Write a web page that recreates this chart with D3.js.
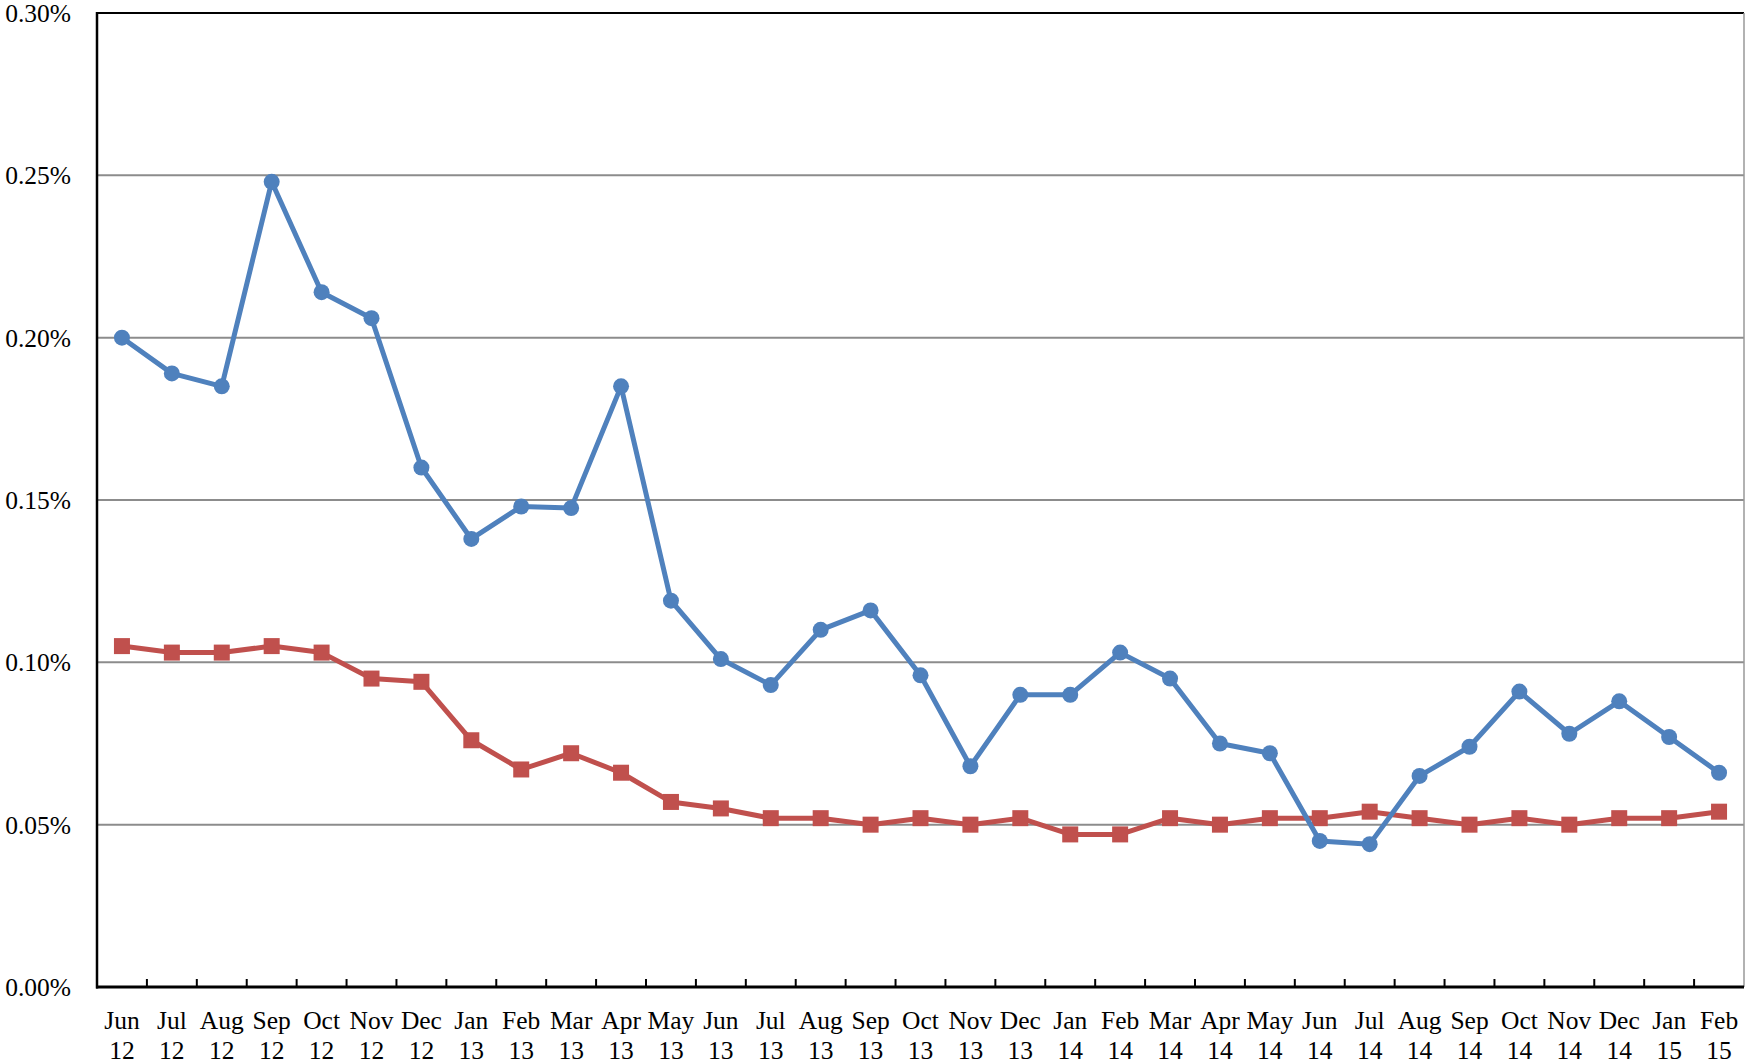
<!DOCTYPE html>
<html lang="en">
<head>
    <meta charset="UTF-8">
    <title>Line chart</title>
    <script src="https://cdn.jsdelivr.net/npm/d3@7"></script>
    <style>
        body { margin: 0; background: #fff; }
        text { font-family: "Liberation Serif", "Times New Roman", serif; fill: #000; }
    </style>
</head>
<body>
    <div id="app"></div>
    <script>
        var width = 1746;
        var height = 1064;
        var margin = { left: 97, top: 13, right: 2, bottom: 77 };
        var g_width = width - margin.left - margin.right;
        var g_height = height - margin.top - margin.bottom;

        // month labels (two lines: month / year)
        var months = ["Jun", "Jul", "Aug", "Sep", "Oct", "Nov", "Dec",
            "Jan", "Feb", "Mar", "Apr", "May", "Jun", "Jul", "Aug", "Sep", "Oct", "Nov", "Dec",
            "Jan", "Feb", "Mar", "Apr", "May", "Jun", "Jul", "Aug", "Sep", "Oct", "Nov", "Dec",
            "Jan", "Feb"];
        var years = ["12", "12", "12", "12", "12", "12", "12",
            "13", "13", "13", "13", "13", "13", "13", "13", "13", "13", "13", "13",
            "14", "14", "14", "14", "14", "14", "14", "14", "14", "14", "14", "14",
            "15", "15"];
        var categories = months.map(function (m, i) { return m + " " + years[i]; });

        // values in percent
        var blueValues = [0.200, 0.189, 0.185, 0.248, 0.214, 0.206, 0.160,
            0.138, 0.148, 0.1475, 0.185, 0.119, 0.101, 0.093, 0.110, 0.116, 0.096, 0.068, 0.090,
            0.090, 0.103, 0.095, 0.075, 0.072, 0.045, 0.044, 0.065, 0.074, 0.091, 0.078, 0.088,
            0.077, 0.066];
        var redValues = [0.105, 0.103, 0.103, 0.105, 0.103, 0.095, 0.094,
            0.076, 0.067, 0.072, 0.066, 0.057, 0.055, 0.052, 0.052, 0.050, 0.052, 0.050, 0.052,
            0.047, 0.047, 0.052, 0.050, 0.052, 0.052, 0.054, 0.052, 0.050, 0.052, 0.050, 0.052,
            0.052, 0.054];
        var yTicks = [0, 0.05, 0.10, 0.15, 0.20, 0.25, 0.30];

        var svg = d3.select("#app")
            .append("svg")
            .attr("width", width)
            .attr("height", height);

        var g = svg.append("g")
            .attr("transform", "translate(" + margin.left + "," + margin.top + ")");

        var x = d3.scaleBand()
            .domain(categories)
            .range([0, g_width]);

        var y = d3.scaleLinear()
            .domain([0, 0.30])
            .range([g_height, 0]);

        // gridlines
        g.selectAll(".grid")
            .data(yTicks.slice(1))
            .enter()
            .append("line")
            .attr("x1", 0)
            .attr("x2", g_width)
            .attr("y1", function (d) { return y(d); })
            .attr("y2", function (d) { return y(d); })
            .attr("stroke", "#8c8c8c")
            .attr("stroke-width", 2);

        // top border (black) and right border (gray)
        g.append("line")
            .attr("x1", 0).attr("x2", g_width)
            .attr("y1", y(0.30)).attr("y2", y(0.30))
            .attr("stroke", "#000").attr("stroke-width", 2);
        g.append("line")
            .attr("x1", g_width).attr("x2", g_width)
            .attr("y1", y(0.30)).attr("y2", g_height)
            .attr("stroke", "#999").attr("stroke-width", 1.5);

        // y axis labels
        g.selectAll(".ylab")
            .data(yTicks)
            .enter()
            .append("text")
            .attr("x", -26)
            .attr("y", function (d) { return y(d); })
            .attr("dy", "0.35em")
            .attr("text-anchor", "end")
            .style("font-size", "25.5px")
            .text(function (d) { return d.toFixed(2) + "%"; });

        // y axis line
        g.append("line")
            .attr("x1", 0).attr("x2", 0)
            .attr("y1", y(0.30) - 1).attr("y2", g_height + 1.5)
            .attr("stroke", "#000").attr("stroke-width", 2.5);

        // x axis: ticks at band boundaries, pointing inward
        g.selectAll(".xtick")
            .data(categories.slice(1))
            .enter()
            .append("line")
            .attr("x1", function (d) { return x(d); })
            .attr("x2", function (d) { return x(d); })
            .attr("y1", g_height)
            .attr("y2", g_height - 8)
            .attr("stroke", "#000")
            .attr("stroke-width", 2);

        g.append("line")
            .attr("x1", -1).attr("x2", g_width)
            .attr("y1", g_height).attr("y2", g_height)
            .attr("stroke", "#000").attr("stroke-width", 3);

        var xlab = g.selectAll(".xlab")
            .data(categories)
            .enter()
            .append("text")
            .attr("text-anchor", "middle")
            .style("font-size", "25.5px")
            .attr("transform", function (d) {
                return "translate(" + (x(d) + x.bandwidth() / 2) + "," + (g_height + 42) + ")";
            });
        xlab.append("tspan")
            .attr("x", 0).attr("y", 0)
            .text(function (d, i) { return months[i]; });
        xlab.append("tspan")
            .attr("x", 0).attr("y", 30)
            .text(function (d, i) { return years[i]; });

        var cx = function (d, i) { return x(categories[i]) + x.bandwidth() / 2; };

        var line = d3.line()
            .x(cx)
            .y(function (d) { return y(d); });

        // red series (squares)
        g.append("path")
            .datum(redValues)
            .attr("d", line)
            .attr("fill", "none")
            .attr("stroke", "#C0504D")
            .attr("stroke-width", 5)
            .attr("stroke-linejoin", "round");
        g.selectAll(".sq")
            .data(redValues)
            .enter()
            .append("rect")
            .attr("x", function (d, i) { return cx(d, i) - 8; })
            .attr("y", function (d) { return y(d) - 8; })
            .attr("width", 16)
            .attr("height", 16)
            .attr("fill", "#C0504D");

        // blue series (circles)
        g.append("path")
            .datum(blueValues)
            .attr("d", line)
            .attr("fill", "none")
            .attr("stroke", "#4F81BD")
            .attr("stroke-width", 5)
            .attr("stroke-linejoin", "round");
        g.selectAll(".dot")
            .data(blueValues)
            .enter()
            .append("circle")
            .attr("cx", cx)
            .attr("cy", function (d) { return y(d); })
            .attr("r", 8)
            .attr("fill", "#4F81BD");
    </script>
</body>
</html>
